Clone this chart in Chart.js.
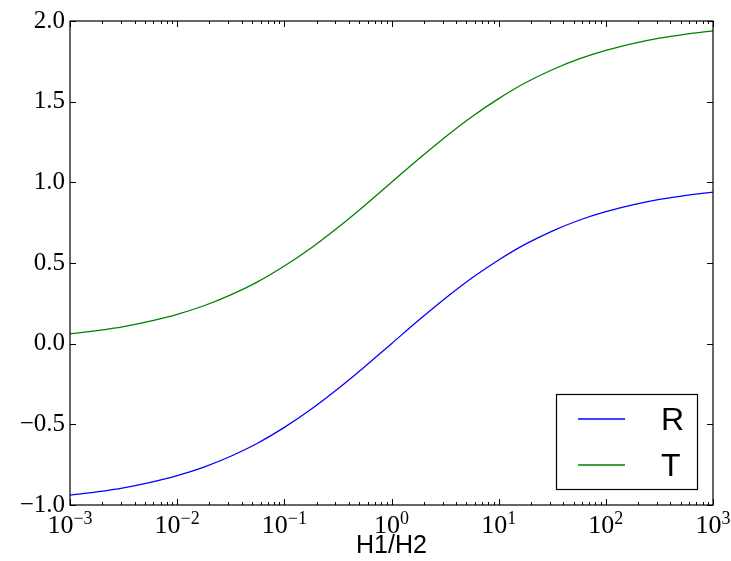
<!DOCTYPE html>
<html>
<head>
<meta charset="utf-8">
<script src="https://cdn.jsdelivr.net/npm/chart.js@4"></script>
<style>
    html, body { margin: 0; padding: 0; background: #fff; }
    #wrap { width: 731px; height: 561px; }
</style>
</head>
<body>
<div id="wrap"><canvas id="rt-chart" width="731" height="561"></canvas></div>
<script>
// H1/H2 sample points (log axis) and the two curves
const hRatio = [0.001, 0.001778, 0.003162, 0.005623, 0.01, 0.01778, 0.03162, 0.05623,
    0.1, 0.1778, 0.3162, 0.5623, 1, 1.778, 3.162, 5.623,
    10, 17.78, 31.62, 56.23, 100, 177.8, 316.2, 562.3, 1000];
const rValues = [-0.939, -0.919, -0.894, -0.860, -0.818, -0.765, -0.698, -0.617,
    -0.519, -0.407, -0.280, -0.143, 0.000, 0.143, 0.280, 0.407,
    0.519, 0.617, 0.698, 0.765, 0.818, 0.860, 0.894, 0.919, 0.939];
const tValues = [0.061, 0.081, 0.106, 0.140, 0.182, 0.235, 0.302, 0.383,
    0.481, 0.593, 0.720, 0.857, 1.000, 1.143, 1.280, 1.407,
    1.519, 1.617, 1.698, 1.765, 1.818, 1.860, 1.894, 1.919, 1.939];

const xDecades = [1e-3, 1e-2, 1e-1, 1e0, 1e1, 1e2, 1e3];
const xExponents = ['\u22123', '\u22122', '\u22121', '0', '1', '2', '3'];
const yTicks = [-1.0, -0.5, 0.0, 0.5, 1.0, 1.5, 2.0];

const serif = '"Liberation Serif", "DejaVu Serif", serif';
const sans = '"Liberation Sans", Arial, sans-serif';
const blue = '#0000ff';
const green = '#008000';

function toPoints(xs, ys) {
    return xs.map((x, i) => ({ x: x, y: ys[i] }));
}

// frame, inward ticks, x tick labels, axis title and legend box (matplotlib look)
const axesDecor = {
    id: 'axesDecor',
    afterDraw(chart) {
        const ctx = chart.ctx;
        const area = chart.chartArea;
        const xs = chart.scales.x;
        const ys = chart.scales.y;
        ctx.save();
        ctx.strokeStyle = '#000';
        ctx.lineWidth = 1.2;
        ctx.strokeRect(area.left, area.top, area.right - area.left, area.bottom - area.top);

        ctx.lineWidth = 1;
        ctx.beginPath();
        xDecades.forEach((d, i) => {
            const px = Math.round(xs.getPixelForValue(d)) + 0.5;
            ctx.moveTo(px, area.bottom); ctx.lineTo(px, area.bottom - 6);
            ctx.moveTo(px, area.top); ctx.lineTo(px, area.top + 6);
            if (i < xDecades.length - 1) {
                for (let m = 2; m <= 9; m++) {
                    const mx = Math.round(xs.getPixelForValue(d * m)) + 0.5;
                    ctx.moveTo(mx, area.bottom); ctx.lineTo(mx, area.bottom - 3);
                    ctx.moveTo(mx, area.top); ctx.lineTo(mx, area.top + 3);
                }
            }
        });
        yTicks.forEach(v => {
            const py = Math.round(ys.getPixelForValue(v)) + 0.5;
            ctx.moveTo(area.left, py); ctx.lineTo(area.left + 6, py);
            ctx.moveTo(area.right, py); ctx.lineTo(area.right - 6, py);
        });
        ctx.stroke();

        // x tick labels 10^n
        ctx.fillStyle = '#000';
        ctx.textBaseline = 'alphabetic';
        ctx.textAlign = 'left';
        xDecades.forEach((d, i) => {
            const px = xs.getPixelForValue(d);
            ctx.font = '26px ' + serif;
            const wBase = ctx.measureText('10').width;
            ctx.font = '18px ' + serif;
            const wExp = ctx.measureText(xExponents[i]).width;
            const x0 = px - (wBase + wExp) / 2;
            ctx.font = '26px ' + serif;
            ctx.fillText('10', x0, 533);
            ctx.font = '18px ' + serif;
            ctx.fillText(xExponents[i], x0 + wBase, 524);
        });

        // axis title
        ctx.font = '25px ' + sans;
        ctx.textAlign = 'center';
        ctx.textBaseline = 'middle';
        ctx.fillText('H1/H2', (area.left + area.right) / 2, 546);

        // legend
        ctx.lineWidth = 1.2;
        ctx.strokeStyle = '#000';
        ctx.fillStyle = '#fff';
        ctx.fillRect(556, 394, 141, 95);
        ctx.strokeRect(556.5, 394.5, 141, 95);
        ctx.font = '32px ' + sans;
        ctx.textAlign = 'left';
        const legendColors = [blue, green];
        chart.data.datasets.forEach((ds, i) => {
            const ly = 419 + i * 46;
            ctx.strokeStyle = legendColors[i];
            ctx.lineWidth = 1.5;
            ctx.beginPath();
            ctx.moveTo(578, ly);
            ctx.lineTo(625, ly);
            ctx.stroke();
            ctx.fillStyle = '#000';
            ctx.fillText(ds.label, 661, ly + 2);
        });
        ctx.restore();
    }
};

function buildRTChart(canvas) {
    const config = {
        type: 'line',
        data: {
            datasets: [
                {
                    label: 'R',
                    data: toPoints(hRatio, rValues),
                    borderColor: blue,
                    borderWidth: 1.3,
                    pointRadius: 0,
                    cubicInterpolationMode: 'monotone',
                    fill: false
                },
                {
                    label: 'T',
                    data: toPoints(hRatio, tValues),
                    borderColor: green,
                    borderWidth: 1.3,
                    pointRadius: 0,
                    cubicInterpolationMode: 'monotone',
                    fill: false
                }
            ]
        },
        options: {
            responsive: false,
            animation: false,
            layout: { padding: { left: 0, right: 18, top: 21, bottom: 56 } },
            plugins: {
                legend: { display: false },
                tooltip: { enabled: false }
            },
            scales: {
                x: {
                    type: 'logarithmic',
                    min: 1e-3,
                    max: 1e3,
                    display: false
                },
                y: {
                    type: 'linear',
                    min: -1,
                    max: 2,
                    grid: { display: false, drawTicks: false },
                    border: { display: false },
                    ticks: {
                        stepSize: 0.5,
                        padding: 5,
                        color: '#000',
                        font: { family: serif, size: 25 },
                        callback: v => (v < 0 ? '\u2212' : '') + Math.abs(v).toFixed(1)
                    },
                    afterFit: scale => { scale.width = 70; }
                }
            }
        },
        plugins: [axesDecor]
    };

    new Chart(canvas, config);
}

addEventListener('DOMContentLoaded', () => {
    const canvas = document.getElementById('rt-chart');
    if (canvas) {
        buildRTChart(canvas);
    }
});
</script>
</body>
</html>
